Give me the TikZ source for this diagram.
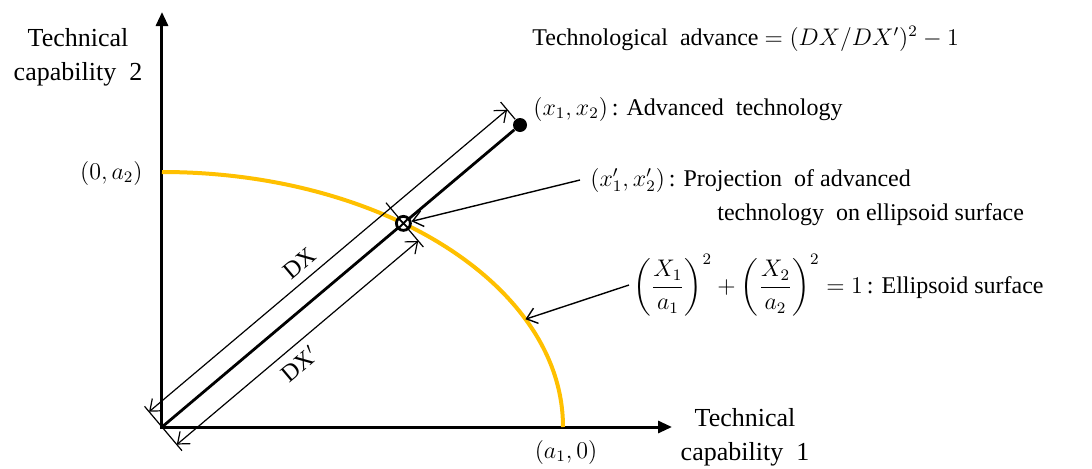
\documentclass[tikz,border=0pt]{standalone}
\usepackage{amsmath}
\usepackage{fontspec}
\setmainfont{Liberation Serif}
\usetikzlibrary{arrows.meta, calc, positioning}
\definecolor{ellgold}{RGB}{255,192,0}

\begin{document}
\begin{tikzpicture}[
  x=0.5pt, y=0.5pt,
  axisline/.style={line width=1.5pt, {Triangle[length=7pt, width=6pt]}-{Triangle[length=7pt, width=6pt]}},
  mainline/.style={line width=1.4pt},
  ellarc/.style={draw=ellgold, line width=2pt},
  dimline/.style={line width=0.6pt, {Straight Barb[length=5pt, width=8pt]}-{Straight Barb[length=5pt, width=8pt]}},
  tickline/.style={line width=0.6pt},
  callout/.style={line width=0.7pt, -{Straight Barb[length=5pt, width=8pt]}},
  dotx/.style={circle, fill=black, inner sep=0pt, minimum size=7pt},
  projmark/.style={circle, draw, fill=white, line width=1.4pt, inner sep=0pt, minimum size=7pt,
    path picture={\draw[line width=0.9pt] (path picture bounding box.north west) -- (path picture bounding box.south east)
      (path picture bounding box.north east) -- (path picture bounding box.south west);}},
  lbl/.style={inner sep=0pt, font=\fontsize{12}{16}\selectfont},
  axlbl/.style={align=center, inner sep=0pt, font=\fontsize{13}{17}\selectfont}
]
  \useasboundingbox (-162,-41) rectangle (930,427);

  \coordinate (O) at (0,0);
  \coordinate (ytop) at (0,415);
  \coordinate (xend) at (510,0);
  \draw[axisline] (ytop) -- (O) -- (xend);

  \draw[ellarc] (0,255) arc[start angle=90, end angle=0, x radius=200.5pt, y radius=127.5pt];
  \coordinate (E) at (25:200.5pt and 127.5pt);

  \node[dotx] (X) at (358,302) {};
  \coordinate (P) at ($(O)!0.6743!(X)$);
  \draw[mainline] (O) -- (X);

  \draw[dimline] ($(O)!10pt!90:(X)$) -- ($(X)!10pt!-90:(O)$)
    node[lbl, pos=0.45, sloped, above=4pt] {DX};
  \draw[dimline] ($(O)!11.5pt!-90:(X)$) -- ($(P)!11.5pt!90:(O)$)
    node[lbl, pos=0.46, sloped, below=4pt] {DX$'$};

  \draw[tickline] ($(O)!13.5pt!90:(X)$) -- ($(O)!15.5pt!-90:(X)$);
  \draw[tickline] ($(P)!13.5pt!-90:(O)$) -- ($(P)!15.5pt!90:(O)$);
  \draw[tickline] ($(X)!3.75pt!-90:(O)$) -- ($(X)!15pt!-90:(O)$);

  \node[projmark] (Pm) at (P) {};

  \node[axlbl] (cap2lbl) at (-84,370) {Technical\\capability\ \ 2};
  \node[axlbl] (cap1lbl) at (583,-10) {Technical\\capability\ \ 1};
  \node[lbl, anchor=east] (a2lbl) at (-19,254) {$(0, a_2)$};
  \node[lbl, anchor=base] (a1lbl) at (404,-31) {$(a_1, 0)$};

  \node[lbl, anchor=base west] (title) at (370,382) {Technological\ \ advance $= (DX/DX')^2 - 1$};
  \node[lbl, anchor=base west] (advlbl) at (371,312) {$(x_1, x_2)$\,: Advanced\ \ technology};
  \node[lbl, anchor=base west] (projlbl) at (428,241) {$(x_1', x_2')$\,: Projection\ \ of advanced};
  \node[lbl, anchor=base west] (projlbl2) at (555,207) {technology\ \ on ellipsoid surface};
  \node[lbl, anchor=base west] (ellbl) at (471,134)
    {$\left(\dfrac{X_1}{a_1}\right)^{2} + \left(\dfrac{X_2}{a_2}\right)^{2} = 1$\,: Ellipsoid surface};

  \draw[callout] ([xshift=-5pt]projlbl.west) -- (Pm);
  \draw[callout] ([xshift=-2pt]ellbl.west) -- (E);
\end{tikzpicture}
\end{document}
